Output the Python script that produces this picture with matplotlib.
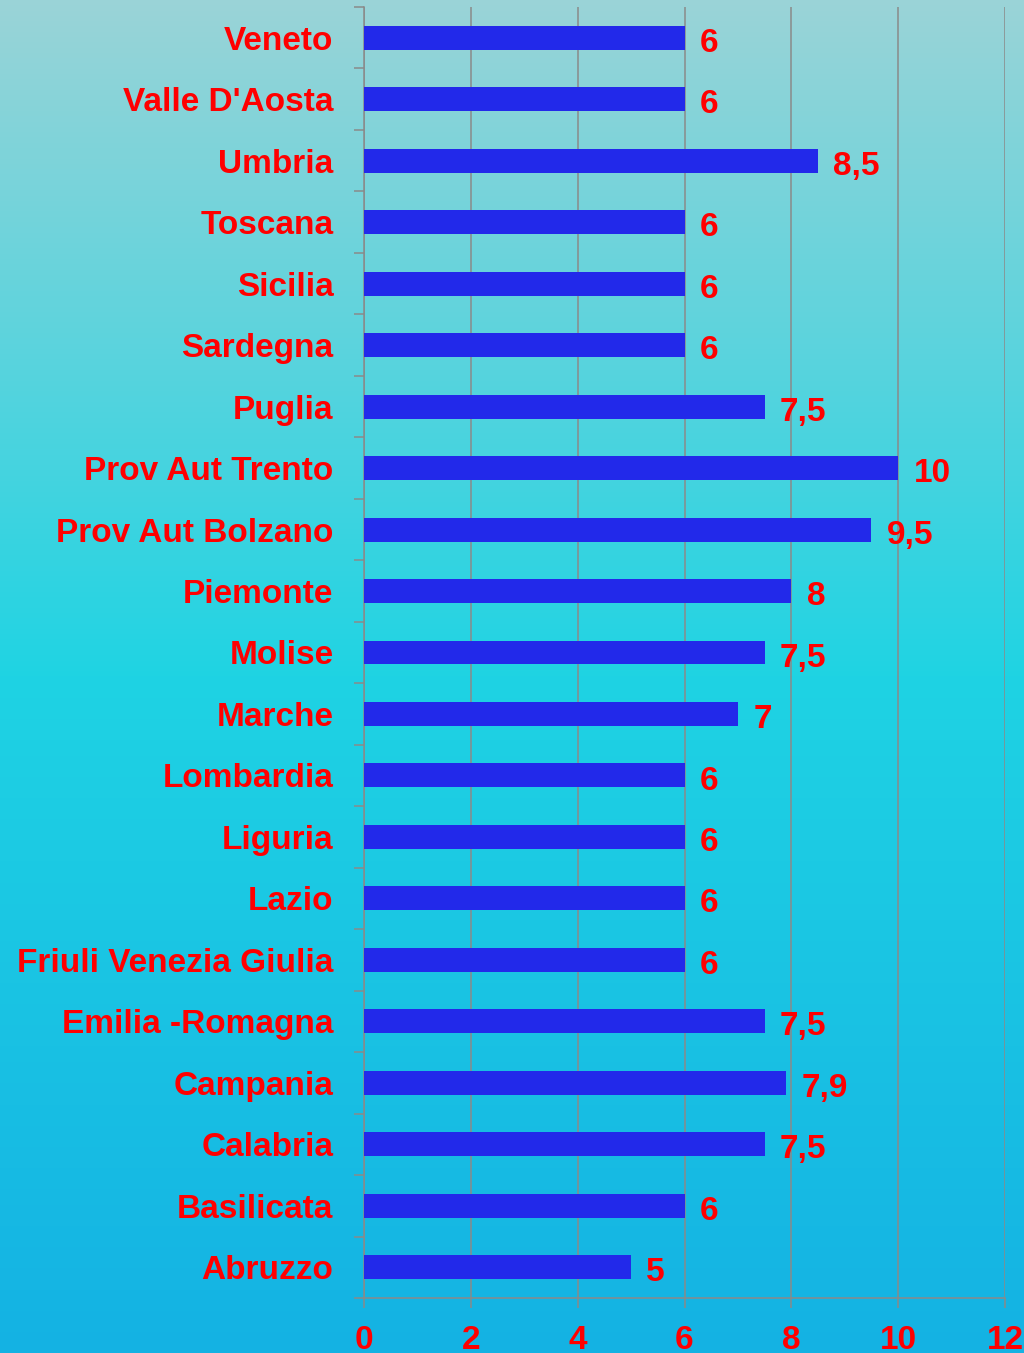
import numpy as np
from matplotlib import pyplot as plt
from matplotlib.colors import LinearSegmentedColormap

plt.rcParams['font.family'] = ['Liberation Sans', 'DejaVu Sans']

regions = ['Abruzzo', 'Basilicata', 'Calabria', 'Campania', 'Emilia -Romagna',
           'Friuli Venezia Giulia', 'Lazio', 'Liguria', 'Lombardia', 'Marche',
           'Molise', 'Piemonte', 'Prov Aut Bolzano', 'Prov Aut Trento', 'Puglia',
           'Sardegna', 'Sicilia', 'Toscana', 'Umbria', "Valle D'Aosta", 'Veneto']
values = [5, 6, 7.5, 7.9, 7.5, 6, 6, 6, 6, 7, 7.5, 8, 9.5, 10, 7.5, 6, 6, 6, 8.5, 6, 6]
xticks = [0, 2, 4, 6, 8, 10, 12]

red = '#ff0000'
bar_col = '#2229ea'
grey = '#8a8a8a'

fig = plt.figure(figsize=(10.24, 13.53), dpi=100)

# background gradient
bg = fig.add_axes([0, 0, 1, 1])
cmap = LinearSegmentedColormap.from_list('bg', [(0.0, '#9ad3d7'), (0.5, '#1fd3e3'), (1.0, '#14b2e3')])
bg.imshow(np.linspace(0, 1, 256).reshape(-1, 1), aspect='auto', cmap=cmap, extent=[0, 1, 0, 1])
bg.axis('off')

ax = fig.add_axes([364/1024, 55/1353, (1005-364)/1024, (1298-7)/1353])
ax.patch.set_alpha(0)
y = np.arange(len(regions))
ax.barh(y, values, height=0.39, color=bar_col, zorder=3)

for yi, v in zip(y, values):
    lab = f'{v:g}'.replace('.', ',')
    ax.annotate(lab, (v, yi), xytext=(11, -1.5), textcoords='offset points',
                va='center_baseline', ha='left', color=red, fontsize=24, fontweight='bold')

ax.set_xlim(0, 12)
ax.set_ylim(-0.5, len(regions) - 0.5)
ax.set_xticks(xticks)
ax.set_xticklabels([str(t) for t in xticks], color=red, fontsize=24, fontweight='bold')
ax.set_yticks(y)
ax.set_yticklabels(regions, color=red, fontsize=24, fontweight='bold')
ax.set_yticks(np.arange(-0.5, len(regions), 1), minor=True)
ax.tick_params(axis='y', which='major', length=0, pad=22)
ax.tick_params(axis='y', which='minor', length=7.2, width=1.1, color=grey)
ax.tick_params(axis='x', length=7.2, width=1.1, color=grey, pad=12)

ax.grid(axis='x', color=grey, lw=1.1, zorder=0)
ax.set_axisbelow(True)
for s in ['top', 'right']:
    ax.spines[s].set_visible(False)
for s in ['left', 'bottom']:
    ax.spines[s].set_color(grey)
    ax.spines[s].set_linewidth(1.1)

fig.savefig('out.png', dpi=100)
